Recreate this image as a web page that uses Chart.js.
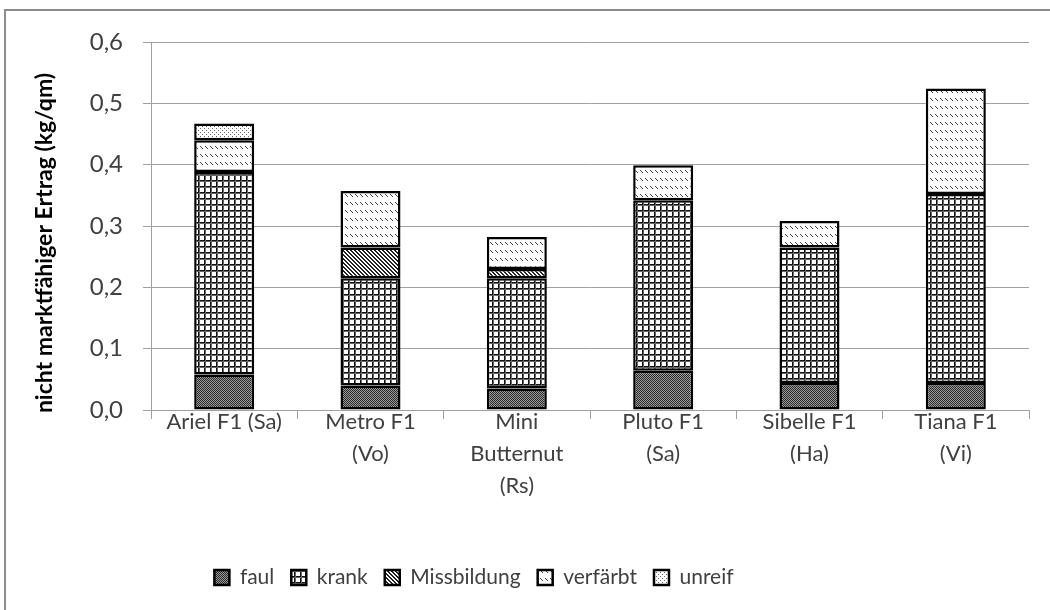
<!DOCTYPE html>
<html>
<head>
<meta charset="utf-8">
<script src="https://cdn.jsdelivr.net/npm/chart.js@4.4.1/dist/chart.umd.min.js"></script>
<style>
  body { margin: 0; background: #fff; }
  canvas { display: block; }
</style>
</head>
<body>
<canvas id="myChart" width="1050" height="610"></canvas>
<script>
// Sorten (Kategorien) und Werte in kg/qm
const sorten = [
  ['Ariel F1 (Sa)'],
  ['Metro F1', '(Vo)'],
  ['Mini', 'Butternut', '(Rs)'],
  ['Pluto F1', '(Sa)'],
  ['Sibelle F1', '(Ha)'],
  ['Tiana F1', '(Vi)'],
];
const faul        = [0.058, 0.040, 0.035, 0.064, 0.044, 0.044];
const krank       = [0.330, 0.175, 0.180, 0.278, 0.221, 0.308];
const missbildung = [0.000, 0.050, 0.015, 0.000, 0.000, 0.000];
const verfaerbt   = [0.052, 0.092, 0.052, 0.057, 0.043, 0.172];
const unreif      = [0.027, 0.000, 0.000, 0.000, 0.000, 0.000];
const yTicks = ['0,0', '0,1', '0,2', '0,3', '0,4', '0,5', '0,6'];
const yTitel = 'nicht marktfähiger Ertrag (kg/qm)';

const ctx = document.getElementById('myChart').getContext('2d');
const textColor = '#404040';
const fontFamily = 'Lato, "Open Sans", sans-serif';

// kleine Musterkacheln wie die Excel-Schraffuren
function muster(w, h, draw) {
  const c = document.createElement('canvas');
  c.width = w;
  c.height = h;
  const g = c.getContext('2d');
  g.fillStyle = '#fff';
  g.fillRect(0, 0, w, h);
  draw(g);
  return ctx.createPattern(c, 'repeat');
}
const px = (g, col, pts) => {
  g.fillStyle = col;
  pts.forEach(([x, y]) => g.fillRect(x, y, 1, 1));
};

const musterFaul = muster(2, 2, (g) => {
  g.fillStyle = '#9a9a9a';
  g.fillRect(0, 0, 2, 2);
  px(g, '#2a2a2a', [[0, 0], [1, 1]]);
});
const musterKrank = muster(6, 6, (g) => {
  g.fillStyle = '#111';
  g.fillRect(0, 0, 6, 1);
  g.fillRect(0, 0, 1, 6);
  g.fillStyle = '#666';
  g.fillRect(0, 1, 6, 1);
  g.fillRect(1, 0, 1, 6);
});
const musterMiss = muster(4, 4, (g) => {
  px(g, '#222', [[0, 0], [1, 1], [2, 2], [3, 3], [1, 0], [2, 1], [3, 2], [0, 3]]);
});
const musterVerf = muster(5, 8, (g) => {
  px(g, '#444', [[0, 2], [1, 3], [2, 4]]);
});
const musterUnreif = muster(4, 4, (g) => {
  px(g, '#666', [[0, 0], [2, 2]]);
});

const rahmen = {
  id: 'rahmen',
  beforeDraw: (chart) => {
    const c = chart.ctx;
    c.save();
    c.fillStyle = '#fff';
    c.fillRect(0, 0, chart.width, chart.height);
    c.strokeStyle = '#8c8c8c';
    c.lineWidth = 2;
    c.strokeRect(5, 10, 1200, 1200);
    c.restore();
  },
};

// Achsentitel etwas unterhalb der Mitte, wie im Original
const achsenTitel = {
  id: 'achsenTitel',
  afterDraw: (chart) => {
    const c = chart.ctx;
    c.save();
    c.translate(45, 243);
    c.rotate(-Math.PI / 2);
    c.font = 'bold 23px ' + fontFamily;
    c.fillStyle = '#000';
    c.textAlign = 'center';
    c.textBaseline = 'middle';
    c.fillText(yTitel, 0, 0);
    c.restore();
  },
};

// Legende etwas nach links wie im Original
const legendeVerschieben = {
  id: 'legendeVerschieben',
  afterLayout: (chart) => {
    chart.legend.left -= 56;
    chart.legend.right -= 56;
  },
};

const ds = (label, data, bg) => ({
  label,
  data,
  backgroundColor: bg,
  borderColor: '#000',
  borderWidth: 2.5,
  borderSkipped: false,
  categoryPercentage: 1,
  barPercentage: 0.41,
});

new Chart(ctx, {
  type: 'bar',
  data: {
    labels: sorten,
    datasets: [
      ds('faul', faul, musterFaul),
      ds('krank', krank, musterKrank),
      ds('Missbildung', missbildung, musterMiss),
      ds('verfärbt', verfaerbt, musterVerf),
      ds('unreif', unreif, musterUnreif),
    ],
  },
  options: {
    responsive: false,
    animation: false,
    layout: { padding: { left: 31, right: 21, top: 42, bottom: 12 } },
    plugins: {
      tooltip: { enabled: false },
      legend: {
        position: 'bottom',
        labels: {
          boxWidth: 15,
          boxHeight: 15,
          padding: 17,
          color: textColor,
          font: { family: fontFamily, size: 21 },
        },
      },
    },
    scales: {
      x: {
        stacked: true,
        offset: true,
        grid: {
          offset: true,
          drawOnChartArea: false,
          color: '#a0a0a0',
          tickLength: 9,
        },
        border: { color: '#a0a0a0', width: 1 },
        ticks: {
          color: textColor,
          font: { family: fontFamily, size: 22, lineHeight: 1.45 },
          padding: -13,
          maxRotation: 0,
          autoSkip: false,
        },
        afterFit: (scale) => { scale.height = 140; },
      },
      y: {
        stacked: true,
        min: 0,
        max: 0.6,
        grid: { color: '#a0a0a0', tickLength: 8 },
        border: { color: '#a0a0a0', width: 1 },
        ticks: {
          stepSize: 0.1,
          padding: 20,
          color: textColor,
          font: { family: fontFamily, size: 24 },
          callback: (v, i) => yTicks[i],
        },
        afterFit: (scale) => { scale.width = 120; },
      },
    },
  },
  plugins: [rahmen, achsenTitel, legendeVerschieben],
});
</script>
</body>
</html>
